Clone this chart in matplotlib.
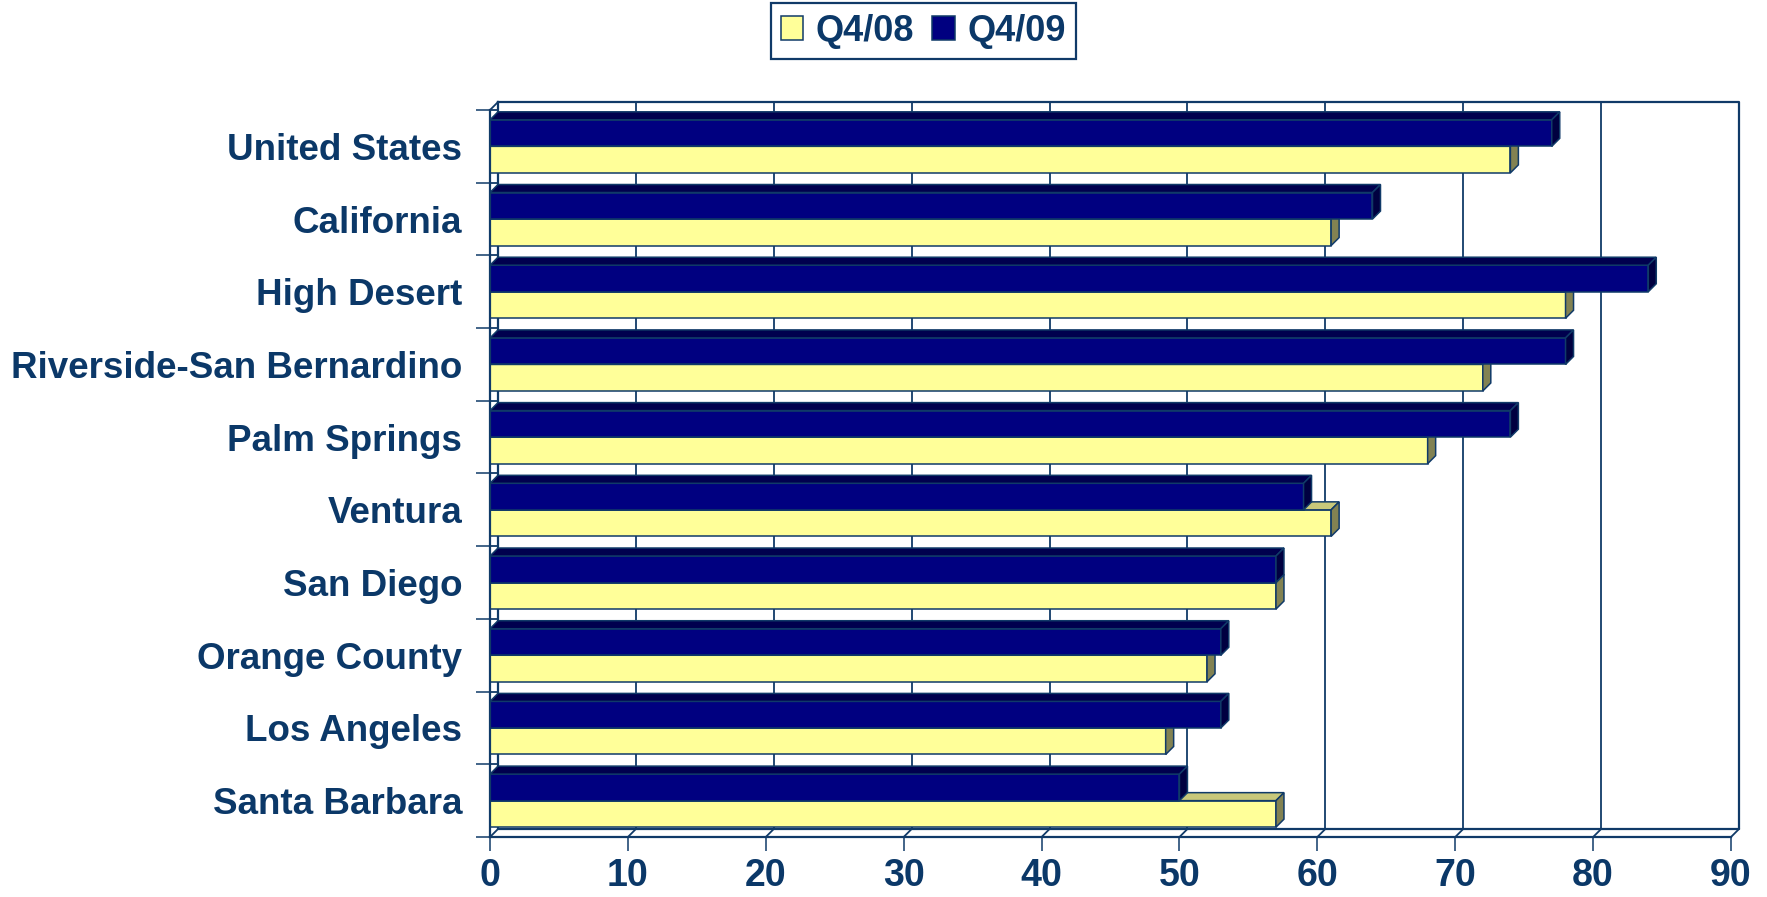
import numpy as np
import matplotlib.pyplot as plt
from matplotlib.patches import Polygon

plt.rcParams['font.family'] = ['Liberation Sans', 'DejaVu Sans']

regions = ['United States', 'California', 'High Desert', 'Riverside-San Bernardino',
           'Palm Springs', 'Ventura', 'San Diego', 'Orange County', 'Los Angeles',
           'Santa Barbara']
q4_08 = [74, 61, 78, 72, 68, 61, 57, 52, 49, 57]
q4_09 = [77, 64, 84, 78, 74, 59, 57, 53, 53, 50]
series_names = ['Q4/08', 'Q4/09']

text_col = '#0B3868'
line_col = '#103A68'

# face colours: front, top, right end
yellow = ('#FFFF99', '#C8C87A', '#828252')
navy = ('#000080', '#00004E', '#000040')

fig = plt.figure(figsize=(17.67, 8.97), dpi=100)
# axes box covers the front axes plus the receding depth of the back wall
ax = fig.add_axes([490 / 1767, 60 / 897, 1249 / 1767, 735 / 897])

n = len(regions)
xmax = 90
dx = 0.58   # depth offset along x (value units)
dy = 0.11   # depth offset along y (category units)
h = 0.365   # bar thickness

ax.set_xlim(0, xmax + dx)
ax.set_ylim(n, -dy)

# back wall and its gridlines
ax.vlines(np.arange(10, xmax, 10) + dx, -dy, n - dy, color=line_col, lw=1.3, zorder=1)
ax.plot([dx, xmax + dx, xmax + dx, dx, dx], [-dy, -dy, n - dy, n - dy, -dy],
        color=line_col, lw=1.6, zorder=1, clip_on=False)
# side wall and floor edges
for v in range(0, xmax + 1, 10):
    ax.plot([v, v + dx], [n, n - dy], color=line_col, lw=1.3, zorder=1, clip_on=False)
ax.plot([0, dx], [0, -dy], color=line_col, lw=1.3, zorder=1, clip_on=False)
for k in range(n + 1):
    ax.plot([0, dx], [k, k], color=line_col, lw=1.3, zorder=1, clip_on=False)

centers = np.arange(n) + 0.5


def bar3d(y_top, values, cols, z):
    fr = ax.barh(y_top + h / 2, values, height=h, color=cols[0], edgecolor=line_col,
                 lw=1.1, zorder=z)
    for yt, v in zip(y_top, values):
        yb = yt + h
        top = [(0, yt), (v, yt), (v + dx, yt - dy), (dx, yt - dy)]
        side = [(v, yt), (v, yb), (v + dx, yb - dy), (v + dx, yt - dy)]
        ax.add_patch(Polygon(top, closed=True, fc=cols[1], ec=line_col, lw=1.1, zorder=z))
        ax.add_patch(Polygon(side, closed=True, fc=cols[2], ec=line_col, lw=1.1, zorder=z))
    return fr


b08 = bar3d(centers, q4_08, yellow, 3)
b09 = bar3d(centers - h, q4_09, navy, 4)

# front axes
for s in ['top', 'right']:
    ax.spines[s].set_visible(False)
ax.spines['bottom'].set_bounds(0, xmax)
ax.spines['left'].set_bounds(0, n)
for s in ['bottom', 'left']:
    ax.spines[s].set_color(line_col)
    ax.spines[s].set_linewidth(1.6)
    ax.spines[s].set_zorder(5)

ax.set_xticks(np.arange(0, xmax + 1, 10))
ax.tick_params(axis='x', direction='out', length=10, width=1.1, color=line_col,
               pad=5, labelsize=27, labelcolor=text_col)
for lab in ax.get_xticklabels():
    lab.set_fontweight('bold')

ax.set_yticks(centers)
ax.set_yticklabels(regions, fontsize=26.5, fontweight='bold', color=text_col)
ax.set_yticks(np.arange(n + 1), minor=True)
ax.tick_params(axis='y', which='major', length=0, pad=20)
ax.tick_params(axis='y', which='minor', direction='out', length=10, width=1.1,
               color=line_col)

leg = ax.legend([b08, b09], series_names, loc='center', ncol=2,
                bbox_to_anchor=(0.5226, 0.9654), bbox_transform=fig.transFigure,
                fancybox=False, framealpha=1, edgecolor=line_col,
                handlelength=0.62, handleheight=0.62, handletextpad=0.35,
                columnspacing=0.5, borderpad=0.28,
                prop={'size': 26, 'weight': 'bold'}, labelcolor=text_col)
leg.get_frame().set_linewidth(1.6)

fig.savefig('out.png', dpi=100, facecolor='white')
